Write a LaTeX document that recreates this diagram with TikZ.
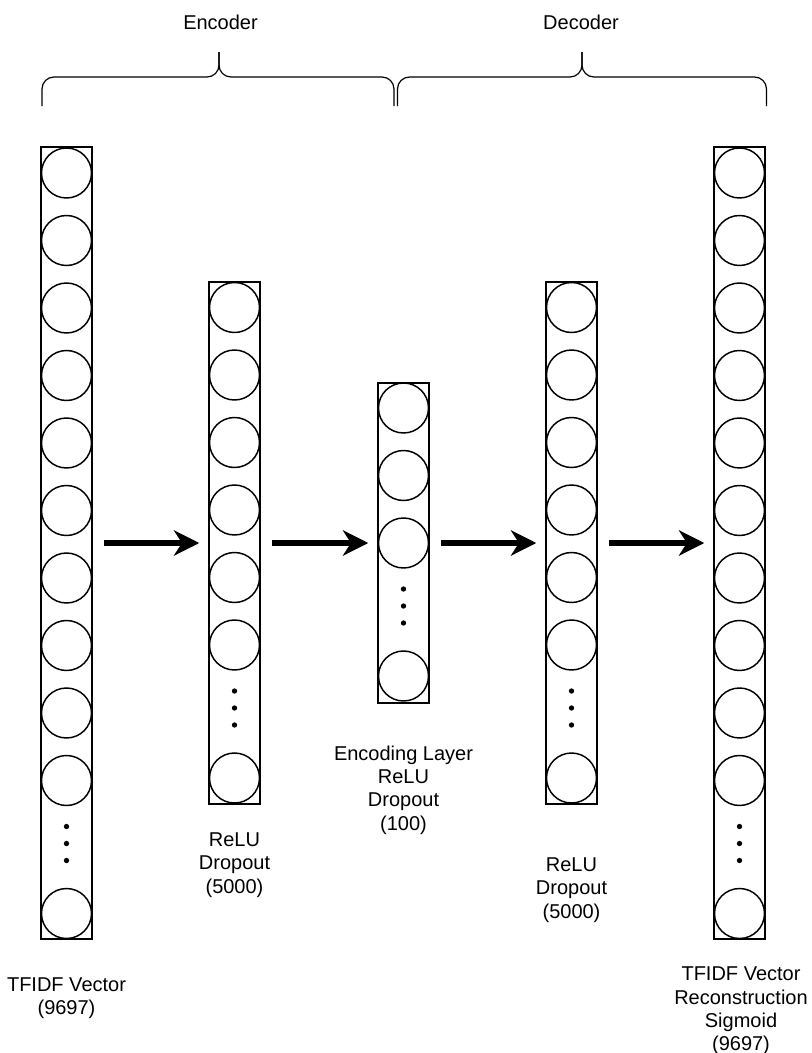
\documentclass[tikz,border=0pt]{standalone}
\usepackage{fontspec}
\setmainfont{Liberation Sans}
\usetikzlibrary{arrows.meta, positioning}

\begin{document}
\begin{tikzpicture}[x=0.75pt,y=-0.75pt,
    layerbox/.style={draw, line width=1.1pt, minimum width=38.25pt, inner sep=0pt},
    neuron/.style={draw, circle, line width=1.1pt, minimum size=37.5pt, inner sep=0pt},
    flow/.style={line width=4.5pt, -{Stealth[length=19pt, width=19pt, inset=6pt]},
      shorten <=8.25pt, shorten >=6.75pt},
    lbl/.style={align=center, font=\fontsize{15}{17.5}\selectfont},
    brace/.style={line width=0.9pt, rounded corners=9pt}]

  \useasboundingbox (0,0) rectangle (812,1053);

  % layers
  \node[layerbox, minimum height=594pt]   (tfidf) at (66.5,543)  {};
  \node[layerbox, minimum height=391.5pt] (enc)   at (234.5,543) {};
  \node[layerbox, minimum height=240pt]   (code)  at (403.5,543) {};
  \node[layerbox, minimum height=391.5pt] (dec)   at (571.5,543) {};
  \node[layerbox, minimum height=594pt]   (recon) at (739.5,543) {};

  % neurons, dots, last neuron
  \foreach \lay/\x/\n/\first in {tfidf/66.5/9/173, enc/234.5/5/307.5, code/403.5/2/408,
      dec/571.5/5/307.5, recon/739.5/9/173} {
    \pgfmathsetmacro\lastY{\first+67.5*\n}
    \foreach \k in {0,...,\n}
      \node[neuron] (\lay-\k) at (\x,\first+67.5*\k) {};
    \foreach \d in {46,63,80}
      \fill (\x,\lastY+\d) circle (2pt);
    \node[neuron] (\lay-last) at (\x,\lastY+133) {};
  }

  % arrows
  \draw[flow] (tfidf) -- (enc);
  \draw[flow] (enc) -- (code);
  \draw[flow] (code) -- (dec);
  \draw[flow] (dec) -- (recon);

  % braces
  \coordinate (enctip) at (219,52);
  \coordinate (dectip) at (582,52);
  \draw[brace] (42,106) -- (42,77) -- (enctip |- 0,77) -- (enctip);
  \draw[brace] (394,106) -- (394,77) -- (enctip |- 0,77) -- (enctip);
  \draw[brace] (397.5,106) -- (397.5,77) -- (dectip |- 0,77) -- (dectip);
  \draw[brace] (766.5,106) -- (766.5,77) -- (dectip |- 0,77) -- (dectip);
  \node[lbl] (enclbl) at (220.5,22.5) {Encoder};
  \node[lbl] (declbl) at (581,22.5) {Decoder};

  % labels
  \node[lbl] (tfidflbl) at (66.5,998.5) {TFIDF Vector\\(9697)};
  \node[lbl] (enclbl2)  at (234.5,865)  {ReLU\\Dropout\\(5000)};
  \node[lbl] (codelbl)  at (403.5,790)  {Encoding Layer\\ReLU\\Dropout\\(100)};
  \node[lbl] (declbl2)  at (571.5,890)  {ReLU\\Dropout\\(5000)};
  \node[lbl] (reconlbl) at (741,1011)   {TFIDF Vector\\Reconstruction\\Sigmoid\\(9697)};
\end{tikzpicture}
\end{document}
